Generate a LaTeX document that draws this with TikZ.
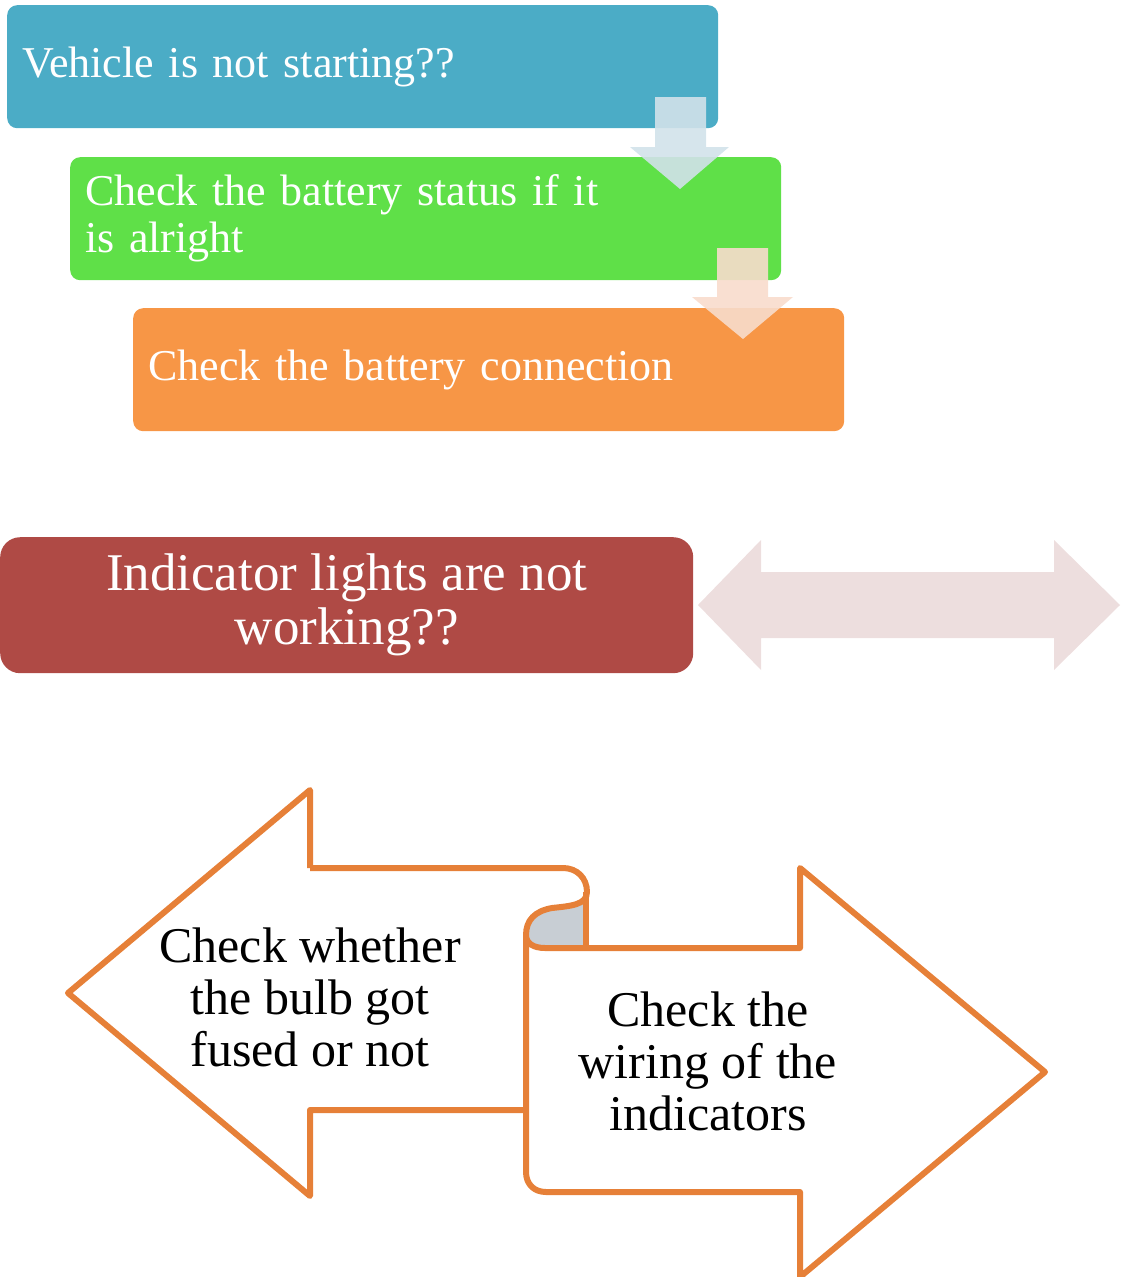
\documentclass[tikz,border=0pt]{standalone}
\usepackage{fontspec}
\setmainfont{Liberation Serif}
\usetikzlibrary{positioning}
\definecolor{vehblue}{RGB}{75,172,198}
\definecolor{battgreen}{RGB}{95,224,72}
\definecolor{connorange}{RGB}{247,150,70}
\definecolor{indred}{RGB}{175,74,69}
\definecolor{dblpink}{RGB}{237,222,222}
\definecolor{scrollorange}{RGB}{230,128,56}
\definecolor{curlgray}{RGB}{200,206,212}
\definecolor{downblue}{RGB}{210,226,234}
\definecolor{downpeach}{RGB}{248,220,204}
\begin{document}
\begin{tikzpicture}[x=1pt,y=-1pt,
    stepbox/.style={rounded corners=10pt,text=white,align=left,anchor=north west,
        text width=681pt,inner xsep=15pt,minimum height=123pt,font=\fontsize{44}{47}\selectfont},
    outline/.style={draw=scrollorange,line width=6pt,line join=round},
    bigtext/.style={align=center,font=\fontsize{50}{52}\selectfont}]
        \useasboundingbox (0,0) rectangle (1120,1277);
        \node[stepbox,fill=vehblue] (start) at (7,5) {Vehicle is not starting??};
        \node[stepbox,fill=battgreen] (battery) at (70,157) {Check the battery status if it\\is alright};
        \node[stepbox,fill=connorange] (connection) at (133,308) {Check the battery connection};
        \fill[downblue,opacity=0.9] (655,97) -- (706,97) -- (706,147) -- (729,147) -- (680,189) -- (630,147) -- (655,147) -- cycle;
        \fill[downpeach,opacity=0.9] (717,248) -- (768,248) -- (768,297) -- (793,297) -- (743,339) -- (692,297) -- (717,297) -- cycle;

        \node[rounded corners=20pt,fill=indred,text=white,anchor=north west,minimum width=693pt,minimum height=136pt,
            align=center,font=\fontsize{53}{54}\selectfont] (indicator) at (0,537) {Indicator lights are not\\working??};
        \fill[dblpink] (698,605) -- (761,540) -- (761,572) -- (1054,572) -- (1054,540) -- (1120,605)
            -- (1054,670) -- (1054,638) -- (761,638) -- (761,670) -- cycle;

        \fill[curlgray] (587,892) .. controls (587,905) and (570,906) .. (552,908) .. controls (535,911) and (526,920) .. (526,935)
            .. controls (526,943) and (533,948) .. (545,948) -- (587,948) -- cycle;
        \draw[outline] (310,868) -- (310,790) -- (68,993) -- (310,1196) -- (310,1110) -- (526,1110);
        \draw[outline] (310,868) -- (563,868) .. controls (577,868) and (587,878) .. (587,892)
            .. controls (587,905) and (570,906) .. (552,908) .. controls (535,911) and (526,920) .. (526,935)
            -- (526,1172) .. controls (526,1184) and (534,1192) .. (546,1192) -- (800,1192) -- (800,1277)
            -- (1045,1072) -- (800,868) -- (800,948) -- (545,948) .. controls (533,948) and (526,943) .. (526,935);
        \draw[outline] (586,892) -- (586,948);
        \node[bigtext] (bulb) at (310,997) {Check whether\\the bulb got\\fused or not};
        \node[bigtext] (wiring) at (708,1061) {Check the\\wiring of the\\indicators};
    \end{tikzpicture}
\end{document}
